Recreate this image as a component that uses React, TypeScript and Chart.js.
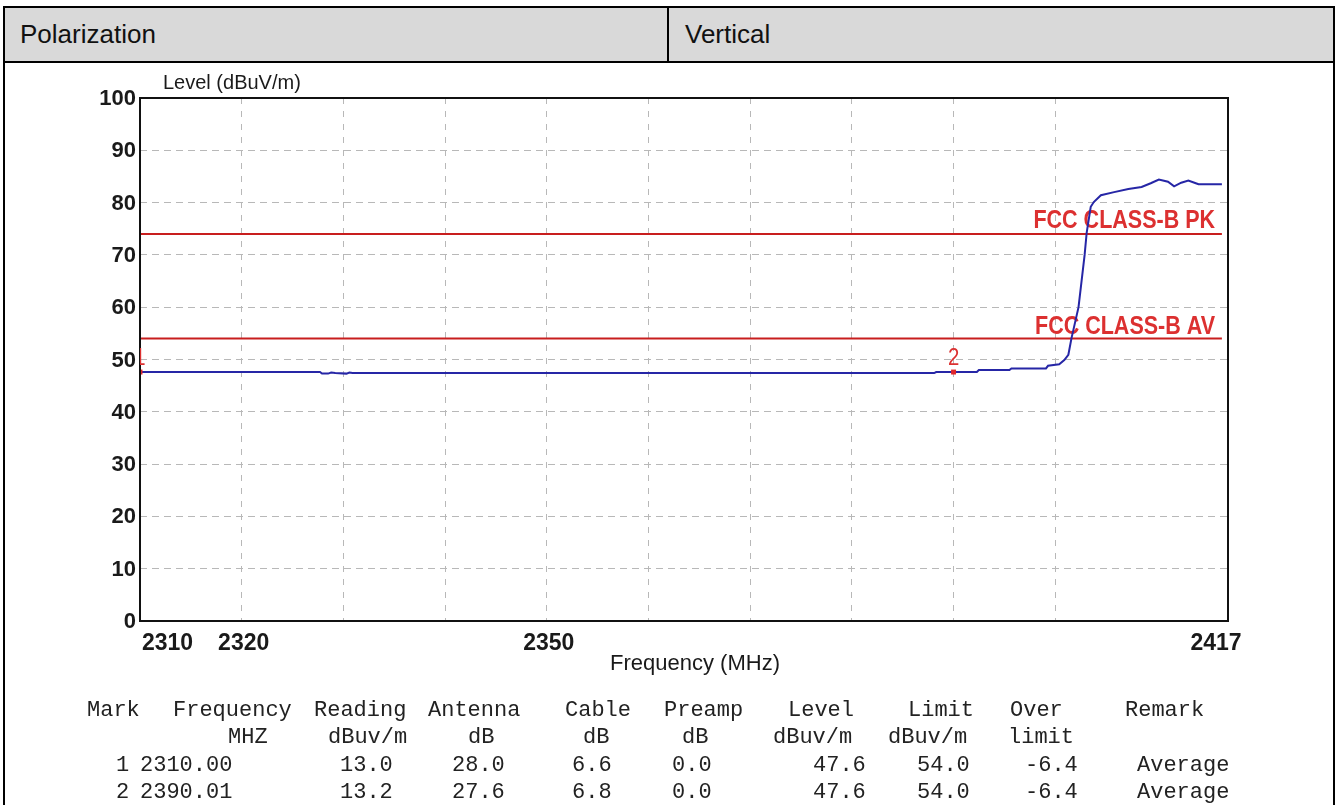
import React, { useEffect, useRef } from "react";
import { Chart, registerables } from "chart.js";

Chart.register(...registerables);

// ---------- chart data ----------
const xMin = 2310;
const xMax = 2417;
const xGridValues = [2320, 2330, 2340, 2350, 2360, 2370, 2380, 2390, 2400];
const xTickLabels = [2310, 2320, 2350, 2417];
const yMin = 0;
const yMax = 100;
const yTickValues = [0, 10, 20, 30, 40, 50, 60, 70, 80, 90, 100];

const traceFreq = [
  2310, 2327.7, 2327.9, 2328.5, 2328.8, 2329.2, 2330.3, 2330.6, 2330.9,
  2388.1, 2388.3, 2392.3, 2392.5, 2395.5, 2395.7, 2399.1, 2399.3, 2400.4,
  2400.9, 2401.3, 2401.6, 2402.3, 2402.9, 2403.1, 2403.5, 2403.8, 2404.5,
  2405.8, 2407.2, 2408.5, 2409.4, 2410.2, 2411.1, 2411.7, 2412.4, 2413.1,
  2413.7, 2414.1, 2416.4,
];
const traceLevel = [
  47.6, 47.6, 47.3, 47.3, 47.5, 47.4, 47.3, 47.5, 47.4,
  47.4, 47.6, 47.6, 48.0, 48.0, 48.3, 48.3, 48.8, 49.1,
  49.9, 50.9, 54.0, 60.0, 70.0, 74.2, 79.2, 80.1, 81.4,
  82.0, 82.6, 83.0, 83.7, 84.4, 84.0, 83.1, 83.8, 84.2,
  83.8, 83.5, 83.5,
];

const limitFreq = [2310, 2416.4];
const peakLimit = 74;
const avgLimit = 54;
const peakLimitName = "FCC CLASS-B PK";
const avgLimitName = "FCC CLASS-B AV";

const markerNames = ["1", "2"];
const markerFreq = [2310, 2390.01];
const markerLevel = [47.6, 47.6];

const yAxisTitle = "Level (dBuV/m)";
const xAxisTitle = "Frequency (MHz)";

// ---------- table data ----------
const polarizationLabel = "Polarization";
const polarizationValue = "Vertical";
const tableHeader1 = ["Mark", "Frequency", "Reading", "Antenna", "Cable", "Preamp", "Level", "Limit", "Over", "Remark"];
const tableHeader2 = ["", "MHZ", "dBuv/m", "dB", "dB", "dB", "dBuv/m", "dBuv/m", "limit", ""];
const tableRows = [
  ["1", "2310.00", "13.0", "28.0", "6.6", "0.0", "47.6", "54.0", "-6.4", "Average"],
  ["2", "2390.01", "13.2", "27.6", "6.8", "0.0", "47.6", "54.0", "-6.4", "Average"],
];

// column left positions (layout)
const header1X = [87, 173, 314, 428, 565, 664, 788, 908, 1010, 1125];
const header2X = [0, 228, 328, 468, 583, 682, 773, 888, 1008, 0];
const rowX = [116, 140, 340, 452, 572, 672, 813, 917, 1025, 1137];
const rowY = [700, 727, 755, 782];

const SANS = '"Liberation Sans", Arial, Helvetica, sans-serif';
const MONO = '"Liberation Mono", "Courier New", monospace';

const overlayPlugin = {
  id: "overlay",
  beforeDatasetsDraw(chart: any) {
    const { ctx, chartArea, scales } = chart;
    const y = scales.y;
    ctx.save();
    ctx.fillStyle = "#dc3030";
    ctx.font = `bold 25px ${SANS}`;
    ctx.textAlign = "right";
    ctx.textBaseline = "alphabetic";
    const items: [string, number, number][] = [
      [peakLimitName, peakLimit, 6],
      [avgLimitName, avgLimit, 5],
    ];
    for (const [name, val, off] of items) {
      ctx.save();
      ctx.translate(chartArea.right - 13, y.getPixelForValue(val) - off);
      ctx.scale(0.86, 1);
      ctx.fillText(name, 0, 0);
      ctx.restore();
    }
    ctx.restore();
  },
  afterDatasetsDraw(chart: any) {
    const { ctx, chartArea, scales } = chart;
    const x = scales.x;
    const y = scales.y;
    ctx.save();
    // frame
    ctx.strokeStyle = "#111";
    ctx.lineWidth = 2;
    ctx.setLineDash([]);
    ctx.strokeRect(chartArea.left, chartArea.top, chartArea.right - chartArea.left, chartArea.bottom - chartArea.top);

    // marker labels (clipped to plot)
    ctx.save();
    ctx.beginPath();
    ctx.rect(chartArea.left, chartArea.top, chartArea.right - chartArea.left, chartArea.bottom - chartArea.top);
    ctx.clip();
    ctx.fillStyle = "#dc3030";
    ctx.font = `24px ${SANS}`;
    ctx.textAlign = "center";
    ctx.textBaseline = "alphabetic";
    markerNames.forEach((n, i) => {
      ctx.save();
      ctx.translate(x.getPixelForValue(markerFreq[i]), y.getPixelForValue(markerLevel[i]) - 7);
      ctx.scale(0.85, 1);
      ctx.fillText(n, 0, 0);
      ctx.restore();
    });
    ctx.restore();

    // y tick labels
    ctx.fillStyle = "#1a1a1a";
    ctx.font = `bold 22px ${SANS}`;
    ctx.textAlign = "right";
    ctx.textBaseline = "middle";
    yTickValues.forEach((v) => {
      ctx.fillText(String(v), chartArea.left - 4, y.getPixelForValue(v) + 1);
    });

    // x tick labels
    ctx.textBaseline = "alphabetic";
    ctx.font = `bold 23px ${SANS}`;
    const last = xTickLabels.length - 1;
    xTickLabels.forEach((v, i) => {
      const px = x.getPixelForValue(v);
      if (i === 0) {
        ctx.textAlign = "left";
        ctx.fillText(String(v), px + 2, chartArea.bottom + 29);
      } else if (i === last) {
        ctx.textAlign = "center";
        ctx.fillText(String(v), px - 12, chartArea.bottom + 29);
      } else {
        ctx.textAlign = "center";
        ctx.fillText(String(v), px + 2, chartArea.bottom + 29);
      }
    });

    // axis titles
    ctx.font = `20px ${SANS}`;
    ctx.textAlign = "left";
    ctx.fillText(yAxisTitle, chartArea.left + 23, chartArea.top - 9);
    ctx.font = `22px ${SANS}`;
    ctx.textAlign = "center";
    ctx.fillText(xAxisTitle, (chartArea.left + chartArea.right) / 2 + 11, chartArea.bottom + 49);
    ctx.restore();
  },
};

function ChartCanvas() {
  const ref = useRef<HTMLCanvasElement | null>(null);
  useEffect(() => {
    if (!ref.current) return;
    const gridColor = (edge: number[]) => (ctx: any) =>
      ctx.tick && edge.includes(ctx.tick.value) ? "rgba(0,0,0,0)" : "#b8b8b8";
    const chart = new Chart(ref.current, {
      type: "scatter",
      data: {
        datasets: [
          {
            label: "Markers",
            data: markerFreq.map((f, i) => ({ x: f, y: markerLevel[i] })),
            pointStyle: "rect",
            pointRadius: 3.5,
            backgroundColor: "#e0262b",
            borderColor: "#e0262b",
            borderWidth: 0,
            showLine: false,
          },
          {
            label: "Level",
            data: traceFreq.map((f, i) => ({ x: f, y: traceLevel[i] })),
            showLine: true,
            borderColor: "#2626a6",
            borderWidth: 2,
            pointRadius: 0,
            tension: 0,
          },
          {
            label: peakLimitName,
            data: limitFreq.map((f) => ({ x: f, y: peakLimit })),
            showLine: true,
            borderColor: "#c81e1e",
            borderWidth: 2,
            pointRadius: 0,
          },
          {
            label: avgLimitName,
            data: limitFreq.map((f) => ({ x: f, y: avgLimit })),
            showLine: true,
            borderColor: "#c81e1e",
            borderWidth: 2,
            pointRadius: 0,
          },
        ],
      },
      options: {
        animation: false,
        responsive: false,
        devicePixelRatio: 1,
        layout: { padding: { left: 135, top: 35, right: 105, bottom: 184 } },
        plugins: { legend: { display: false }, tooltip: { enabled: false } },
        scales: {
          x: {
            type: "linear",
            min: xMin,
            max: xMax,
            afterBuildTicks: (scale: any) => {
              scale.ticks = [xMin, ...xGridValues, xMax].map((value) => ({ value }));
            },
            ticks: { display: false },
            grid: { color: gridColor([xMin, xMax]), lineWidth: 1, drawTicks: false },
            border: { display: false, dash: [6, 7] },
          },
          y: {
            type: "linear",
            min: yMin,
            max: yMax,
            afterBuildTicks: (scale: any) => {
              scale.ticks = yTickValues.map((value) => ({ value }));
            },
            ticks: { display: false },
            grid: { color: gridColor([yMin, yMax]), lineWidth: 1, drawTicks: false },
            border: { display: false, dash: [7, 5] },
          },
        },
      },
      plugins: [overlayPlugin],
    });
    return () => chart.destroy();
  }, []);
  return (
    <canvas
      ref={ref}
      width={1328}
      height={742}
      style={{ position: "absolute", left: 5, top: 63, width: 1328, height: 742 }}
    />
  );
}

export default function App() {
  useEffect(() => {
    document.body.style.margin = "0";
  }, []);
  const mono = { position: "absolute" as const, fontFamily: MONO, fontSize: 22, lineHeight: "22px", color: "#222", whiteSpace: "pre" as const };
  return (
    <div
      style={{
        position: "fixed",
        left: 0,
        top: 0,
        width: 1338,
        height: 805,
        background: "#fff",
        overflow: "hidden",
        fontFamily: SANS,
      }}
    >
      {/* header row */}
      <div
        style={{
          position: "absolute",
          left: 3,
          top: 6,
          width: 1332,
          height: 57,
          background: "#d9d9d9",
          border: "2px solid #000",
          boxSizing: "border-box",
        }}
      />
      <div style={{ position: "absolute", left: 667, top: 6, width: 2, height: 57, background: "#000" }} />
      <div style={{ position: "absolute", left: 20, top: 19, fontSize: 26, lineHeight: "30px", color: "#111" }}>
        {polarizationLabel}
      </div>
      <div style={{ position: "absolute", left: 685, top: 19, fontSize: 26, lineHeight: "30px", color: "#111" }}>
        {polarizationValue}
      </div>
      {/* chart cell */}
      <div
        style={{
          position: "absolute",
          left: 3,
          top: 61,
          width: 1332,
          height: 800,
          borderLeft: "2px solid #000",
          borderRight: "2px solid #000",
          boxSizing: "border-box",
        }}
      />
      <ChartCanvas />
      {/* data table */}
      {tableHeader1.map((t, i) => (
        <span key={"h1" + i} style={{ ...mono, left: header1X[i], top: rowY[0] }}>{t}</span>
      ))}
      {tableHeader2.map((t, i) =>
        t ? (
          <span key={"h2" + i} style={{ ...mono, left: header2X[i], top: rowY[1] }}>{t}</span>
        ) : null
      )}
      {tableRows.map((row, r) =>
        row.map((t, i) => (
          <span key={"r" + r + "c" + i} style={{ ...mono, left: rowX[i], top: rowY[2 + r] }}>{t}</span>
        ))
      )}
    </div>
  );
}
